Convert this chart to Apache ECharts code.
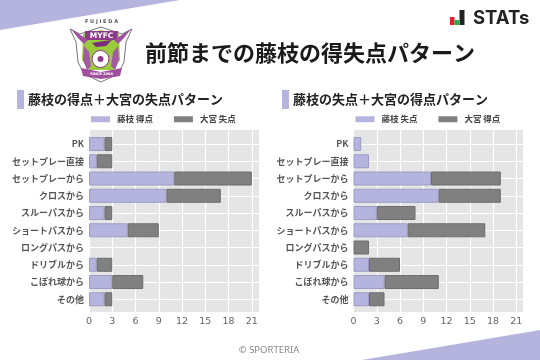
<!DOCTYPE html>
<html>
<head>
<meta charset="utf-8">
<style>html,body{margin:0;padding:0;background:#fff}#chart{width:540px;height:360px}</style>
<script src="https://cdn.jsdelivr.net/npm/echarts@6/dist/echarts.min.js"></script>
</head>
<body>
<div id="chart"></div>
<script>
var categories = ['PK', 'セットプレー直接', 'セットプレーから', 'クロスから', 'スルーパスから', 'ショートパスから', 'ロングパスから', 'ドリブルから', 'こぼれ球から', 'その他']
var leftGoals = [2, 1, 11, 10, 2, 5, 0, 1, 3, 2]
var leftConceded = [1, 2, 10, 7, 1, 4, 0, 2, 4, 1]
var rightConceded = [1, 2, 10, 11, 3, 7, 0, 2, 4, 2]
var rightGoals = [0, 0, 9, 8, 5, 10, 2, 4, 7, 2]
var xTicks = ['0', '3', '6', '9', '12', '15', '18', '21']

var JP = '"Noto Sans CJK JP", sans-serif'
var PURPLE = '#b4b4de'
var GRAY = '#808080'
var XMAX = 21.93

var grids = [], xAxes = [], yAxes = [], series = [], legends = []

function hideZero(arr) {
  return arr.map(function (v) { return v === 0 ? null : v })
}

// ggplot looking panel: back grid holds gray panel + x axis, front grid holds the bars
function addPanel(left, names, first, second) {
  var bg = grids.length
  grids.push({ left: left, width: 170, top: 130, height: 182, backgroundColor: '#e5e5e5', show: true, borderWidth: 0 })
  grids.push({ left: left, width: 170, top: 135.4, height: 172.5 })

  xAxes.push({
    gridIndex: bg, type: 'value', min: 0, max: XMAX, interval: 3,
    axisLine: { show: false }, axisTick: { show: false },
    axisLabel: {
      color: '#666', fontSize: 9.5, fontFamily: 'DejaVu Sans', margin: 5, showMaxLabel: false,
      formatter: function (v) { return xTicks.indexOf(String(v)) >= 0 ? String(v) : '' }
    },
    splitLine: { show: true, lineStyle: { color: '#fff', width: 1.2 } }
  })
  yAxes.push({ gridIndex: bg, type: 'value', show: false, splitLine: { show: false } })

  xAxes.push({ gridIndex: bg + 1, type: 'value', min: 0, max: XMAX, show: false, splitLine: { show: false } })
  yAxes.push({
    gridIndex: bg + 1, type: 'category', inverse: true, data: categories,
    axisLine: { show: false }, axisTick: { show: false }, splitLine: { show: false },
    axisLabel: { color: '#555', fontSize: 9, fontWeight: 'bold', fontFamily: JP, margin: 5 }
  })

  series.push({
    name: names[0], type: 'bar', stack: names[0], xAxisIndex: bg + 1, yAxisIndex: bg + 1,
    barWidth: 14, z: 3, data: hideZero(first),
    itemStyle: { color: PURPLE, borderColor: '#9c9cc4', borderWidth: 1 },
    markLine: {
      silent: true, symbol: 'none', z: 1, animation: false,
      label: { show: false },
      lineStyle: { color: '#fff', width: 1.2, type: 'solid' },
      data: categories.map(function (c) { return { yAxis: c } })
    }
  })
  series.push({
    name: names[1], type: 'bar', stack: names[0], xAxisIndex: bg + 1, yAxisIndex: bg + 1,
    barWidth: 14, z: 3, data: hideZero(second),
    itemStyle: { color: GRAY, borderColor: '#6c6c6c', borderWidth: 1 }
  })

  legends.push({
    data: names.map(function (n) { return { name: n, icon: 'rect' } }),
    left: left - 3, top: 110, itemWidth: 19, itemHeight: 6, itemGap: 21, selectedMode: false,
    itemStyle: { borderWidth: 0 },
    textStyle: { fontSize: 8.5, fontWeight: 'bold', color: '#444', fontFamily: JP, padding: [0, 0, 0, 2] }
  })
}

addPanel(89, ['藤枝 得点', '大宮 失点'], leftGoals, leftConceded)
addPanel(353.5, ['藤枝 失点', '大宮 得点'], rightConceded, rightGoals)

function txt(x, y, s, size, weight, color, family, align) {
  return { type: 'text', z: 5, style: { x: x, y: y, text: s, fontSize: size, fontWeight: weight, fill: color, fontFamily: family || JP, textAlign: align || 'left', textVerticalAlign: 'middle' } }
}
function poly(points, fill, stroke, lw) {
  return { type: 'polygon', z: 4, shape: { points: points }, style: { fill: fill, stroke: stroke || null, lineWidth: lw || 0 } }
}

var decorations = [
  poly([[0, 0], [180, 0], [0, 30]], PURPLE),
  poly([[540, 330], [362, 360], [540, 360]], PURPLE),

  // crest
  txt(101.5, 21.5, 'F U J I E D A', 5, 'bold', '#555', 'DejaVu Sans', 'center'),
  poly([[70, 29], [80, 34], [101, 27], [122, 34], [132, 29], [126, 42], [124, 62], [118, 74], [101, 82], [84, 74], [78, 62], [76, 42]], '#fff', '#777', 1),
  poly([[83, 34], [101, 30], [119, 34], [120, 60], [113, 70], [89, 70], [82, 60]], '#9acb3c'),
  poly([[85, 31], [118, 31], [117, 40], [85, 40]], '#8e3a8c'),
  txt(101.5, 35.8, 'MYFC', 7.5, 'bold', '#fff', 'DejaVu Sans', 'center'),
  poly([[71, 29], [82, 36], [88, 40], [84, 44], [78, 38]], '#a0509e'),
  poly([[131, 29], [120, 36], [114, 40], [118, 44], [124, 38]], '#a0509e'),
  poly([[84, 46], [89, 52], [91, 66], [87, 70], [83, 60]], '#a45aa2'),
  poly([[118, 46], [113, 52], [111, 66], [115, 70], [119, 60]], '#a45aa2'),
  poly([[92, 43], [104, 41], [112, 40], [106, 46], [96, 47]], '#7b2f7a'),
  { type: 'circle', z: 4, shape: { cx: 100.5, cy: 59, r: 8.5 }, style: { fill: '#fff', stroke: '#8e3a8c', lineWidth: 1 } },
  { type: 'circle', z: 4, shape: { cx: 100.5, cy: 59, r: 3 }, style: { fill: '#8e3a8c' } },
  poly([[81, 68], [101, 72], [122, 68], [120, 76], [101, 79], [83, 76]], '#a0509e'),
  txt(101.5, 74, 'SINCE 2009', 3.5, 'bold', '#fff', 'DejaVu Sans', 'center'),

  // STATs mark
  { type: 'rect', z: 5, shape: { x: 450, y: 17, width: 4.5, height: 8 }, style: { fill: '#e5202a' } },
  { type: 'rect', z: 5, shape: { x: 454.5, y: 20, width: 4.5, height: 5 }, style: { fill: '#2fa84f' } },
  { type: 'rect', z: 5, shape: { x: 459.5, y: 10, width: 5, height: 15 }, style: { fill: '#222' } },
  txt(473, 18, 'STATs', 18.5, 'bold', '#222', 'Inter'),

  txt(145, 53, '前節までの藤枝の得失点パターン', 22, 'bold', '#1a1a1a'),

  { type: 'rect', z: 5, shape: { x: 17, y: 90, width: 7, height: 19 }, style: { fill: PURPLE } },
  txt(28, 99.5, '藤枝の得点＋大宮の失点パターン', 13, 'bold', '#222'),
  { type: 'rect', z: 5, shape: { x: 282, y: 90, width: 7, height: 19 }, style: { fill: PURPLE } },
  txt(293, 99.5, '藤枝の失点＋大宮の得点パターン', 13, 'bold', '#222'),

  txt(269, 350, '© SPORTERIA', 9.5, 'normal', '#888', 'Noto Sans', 'center')
]

var chart = echarts.init(document.getElementById('chart'), null, { renderer: 'canvas' })
chart.setOption({
  animation: false,
  backgroundColor: '#fff',
  grid: grids,
  xAxis: xAxes,
  yAxis: yAxes,
  legend: legends,
  series: series,
  graphic: decorations
})
</script>
</body>
</html>
